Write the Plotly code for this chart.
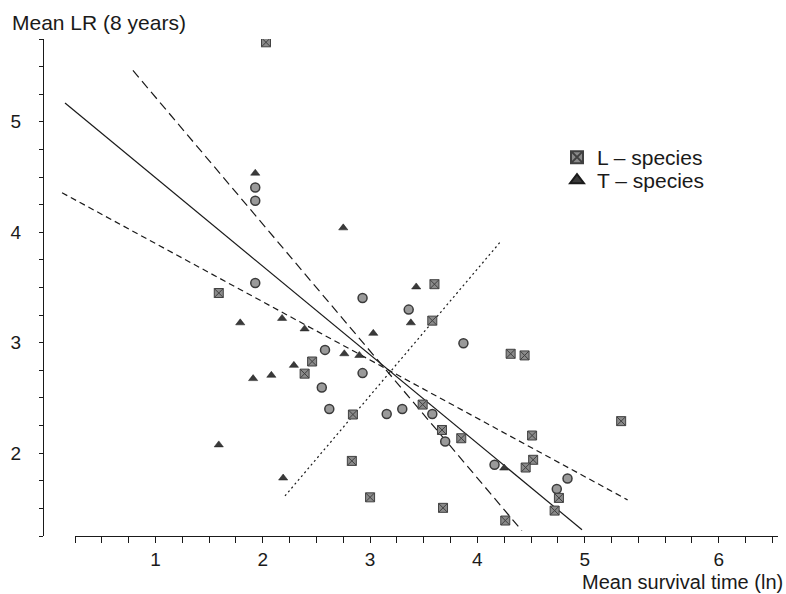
import plotly.graph_objects as go

# ---- data ----
L_x = [2.03, 2.46, 2.39, 2.84, 2.83, 3.00, 3.60, 3.58, 4.31, 4.44, 3.49, 3.67,
       3.85, 4.51, 5.34, 4.52, 4.45, 4.76, 4.72, 3.68, 4.26, 1.59]
L_y = [5.72, 2.83, 2.72, 2.35, 1.93, 1.60, 3.53, 3.20, 2.90, 2.885, 2.44, 2.21,
       2.135, 2.16, 2.29, 1.94, 1.87, 1.595, 1.48, 1.505, 1.39, 3.45]

T_x = [1.93, 2.75, 1.79, 2.18, 2.39, 3.03, 2.76, 2.90, 2.29, 1.91, 2.08, 1.59,
       2.19, 3.43, 3.38, 4.25]
T_y = [4.535, 4.04, 3.18, 3.22, 3.125, 3.085, 2.90, 2.885, 2.795, 2.675, 2.705,
       2.075, 1.775, 3.505, 3.18, 1.865]

C_x = [1.93, 1.93, 1.93, 2.93, 2.58, 2.93, 2.55, 2.62, 3.155, 3.36, 3.87, 3.30,
       3.58, 3.70, 4.16, 4.84, 4.74]
C_y = [4.405, 4.285, 3.54, 3.405, 2.935, 2.725, 2.595, 2.40, 2.355, 3.30, 2.995,
       2.40, 2.355, 2.105, 1.895, 1.77, 1.675]

# regression lines: endpoints
solid_x = [0.157, 4.975]
solid_y = [5.17, 1.307]
steep_x = [0.79, 4.415]
steep_y = [5.465, 1.298]
shallow_x = [0.129, 5.40]
shallow_y = [4.358, 1.577]
dotted_x = [2.207, 4.21]
dotted_y = [1.613, 3.908]

x_tick_labels = ["1", "2", "3", "4", "5", "6"]
x_tick_pos = [1, 2, 3, 4, 5, 6.25]
y_tick_labels = ["2", "3", "4", "5"]
y_tick_pos = [2, 3, 4, 5]

FONT = "Liberation Sans, Arial, sans-serif"
INK = "#1a1a1a"
FS = 21
TFS = 19

fig = go.Figure()

line_specs = [
    (solid_x, solid_y, "solid"),
    (steep_x, steep_y, "9px,5px"),
    (shallow_x, shallow_y, "6px,4px"),
    (dotted_x, dotted_y, "2px,3px"),
]
for lx, ly, dash in line_specs:
    fig.add_trace(go.Scatter(x=lx, y=ly, mode="lines", showlegend=False,
                             line=dict(color=INK, width=1.2, dash=dash),
                             hoverinfo="skip"))

fig.add_trace(go.Scatter(x=C_x, y=C_y, mode="markers", showlegend=False,
                         marker=dict(symbol="circle", size=9, color="#9a9a9a",
                                     line=dict(color="#3a3a3a", width=1.5))))
fig.add_trace(go.Scatter(x=L_x, y=L_y, mode="markers", name="L \u2013 species",
                         legend="legend",
                         marker=dict(symbol="square-x", size=9, color="#8a8a8a",
                                     line=dict(color="#404040", width=1))))
fig.add_trace(go.Scatter(x=T_x, y=T_y, mode="markers", name="T \u2013 species",
                         legend="legend2",
                         marker=dict(symbol="triangle-up", size=8, color="#3a3a3a",
                                     line=dict(color="#1a1a1a", width=0.5))))

W, H = 786, 594
ML, MR, MT, MB = 44, 8, 39, 58
plot_w = W - ML - MR
plot_h = H - MT - MB
x_start_px = 75
px_per_unit = 107.3
x_lo = 0.25
x_hi = x_lo + (W - MR - x_start_px) / px_per_unit
x_data_lo = x_lo - (x_start_px - ML) / px_per_unit

# invisible trace so that the displayed x axis (x2) is rendered
fig.add_trace(go.Scatter(x=[x_lo], y=[1.25], xaxis="x2", yaxis="y", mode="markers",
                         marker=dict(opacity=0), showlegend=False, hoverinfo="skip"))

legend_common = dict(xanchor="left", yanchor="top", bgcolor="rgba(0,0,0,0)",
                     font=dict(size=FS, family=FONT, color=INK),
                     itemsizing="constant")

fig.update_layout(
    width=W, height=H,
    margin=dict(l=ML, r=MR, t=MT, b=MB),
    paper_bgcolor="white", plot_bgcolor="rgba(0,0,0,0)",
    font=dict(family=FONT, size=FS, color=INK),
    xaxis=dict(domain=[0, 1], range=[x_data_lo, x_hi], visible=False,
               showgrid=False, zeroline=False),
    xaxis2=dict(domain=[(x_start_px - ML) / plot_w, 1], range=[x_lo, x_hi],
                anchor="y", showgrid=False, zeroline=False,
                showline=True, linecolor=INK, linewidth=1.2,
                tickmode="array", tickvals=x_tick_pos, ticktext=x_tick_labels,
                ticks="outside", ticklen=6, tickcolor=INK, tickwidth=1,
                ticklabelstandoff=0,
                minor=dict(tickmode="linear", tick0=0.25, dtick=0.25,
                           ticks="outside", ticklen=6, tickcolor=INK, tickwidth=1),
                tickfont=dict(size=TFS, family=FONT, color=INK)),
    yaxis=dict(range=[1.25, 5.75], showgrid=False, zeroline=False,
               showline=True, linecolor=INK, linewidth=1.2,
               tickmode="array", tickvals=y_tick_pos, ticktext=y_tick_labels,
               ticks="outside", ticklen=4, tickcolor=INK, tickwidth=1,
               ticklabelstandoff=14,
               minor=dict(tickmode="linear", tick0=0.25, dtick=0.25,
                          ticks="outside", ticklen=4, tickcolor=INK, tickwidth=1),
               tickfont=dict(size=TFS, family=FONT, color=INK)),
    legend=dict(x=(557 - ML) / plot_w, y=1 - (137 - MT) / plot_h, **legend_common),
    legend2=dict(x=(557 - ML) / plot_w, y=1 - (160 - MT) / plot_h, **legend_common),
    annotations=[
        dict(text="Mean LR (8 years)", xref="paper", yref="paper",
             x=(10 - ML) / plot_w, y=1 + (MT - 22) / plot_h,
             xanchor="left", yanchor="middle", showarrow=False,
             font=dict(size=FS, family=FONT, color=INK)),
        dict(text="Mean survival time (ln)", xref="paper", yref="paper",
             x=(785 - ML) / plot_w, y=-(582 - (H - MB)) / plot_h,
             xanchor="right", yanchor="middle", showarrow=False,
             font=dict(size=20, family=FONT, color=INK)),
    ],
)

fig.write_html("out.html")
